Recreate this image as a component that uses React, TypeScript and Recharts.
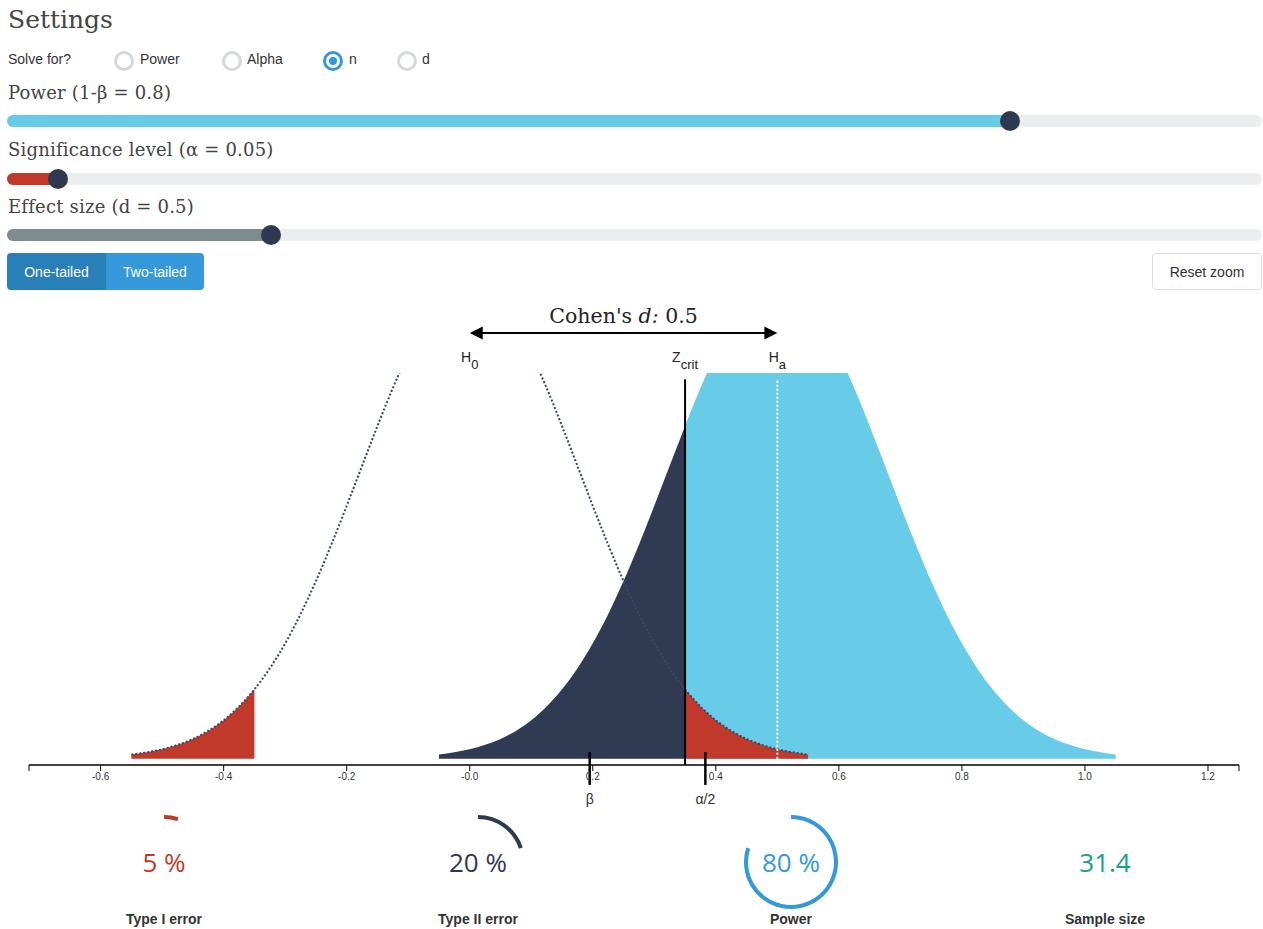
import React from 'react';
import { ComposedChart, Area, Line, XAxis, YAxis, ReferenceLine, PieChart, Pie } from 'recharts';

// x positions shared by both sampling distributions
const xGrid = [
  -0.55, -0.525, -0.5, -0.475, -0.45, -0.425, -0.4, -0.375, -0.35, -0.325, -0.3, -0.275, -0.25,
  -0.225, -0.2, -0.175, -0.15, -0.125, -0.1, -0.075, -0.05, -0.025, 0, 0.025, 0.05, 0.075, 0.1,
  0.125, 0.15, 0.175, 0.2, 0.225, 0.25, 0.275, 0.3, 0.325, 0.35, 0.375, 0.4, 0.425, 0.45, 0.475,
  0.5, 0.525, 0.55, 0.575, 0.6, 0.625, 0.65, 0.675, 0.7, 0.725, 0.75, 0.775, 0.8, 0.825, 0.85,
  0.875, 0.9, 0.925, 0.95, 0.975, 1.0, 1.025, 1.05,
];

const h0Density = [
  0.019, 0.03, 0.044, 0.065, 0.093, 0.131, 0.181, 0.246, 0.327, 0.426, 0.544, 0.682, 0.838, 1.01,
  1.193, 1.382, 1.57, 1.749, 1.91, 2.046, 2.149, 2.213, 2.235, 2.213, 2.149, 2.046, 1.91, 1.749,
  1.57, 1.382, 1.193, 1.01, 0.838, 0.682, 0.544, 0.426, 0.327, 0.246, 0.181, 0.131, 0.093, 0.065,
  0.044, 0.03, 0.019,
];

// Ha curve, from x = -0.05 to 1.05
const haDensity = [
  0.019, 0.03, 0.044, 0.065, 0.093, 0.131, 0.181, 0.246, 0.327, 0.426, 0.544, 0.682, 0.838, 1.01,
  1.193, 1.382, 1.57, 1.749, 1.91, 2.046, 2.149, 2.213, 2.235, 2.213, 2.149, 2.046, 1.91, 1.749,
  1.57, 1.382, 1.193, 1.01, 0.838, 0.682, 0.544, 0.426, 0.327, 0.246, 0.181, 0.131, 0.093, 0.065,
  0.044, 0.03, 0.019,
];

const H0_START = 0; // index in xGrid where each curve begins
const HA_START = 20;
const ZCRIT = 0.35;
const H0_MEAN = 0;
const HA_MEAN = 0.5;
const EFFECT = 0.5;

const xDomain = [-0.7164, 1.2504];
const axisTicks = [-0.6, -0.4, -0.2, 0, 0.2, 0.4, 0.6, 0.8, 1.0, 1.2];
const axisTickLabels = ['-0.6', '-0.4', '-0.2', '-0.0', '0.2', '0.4', '0.6', '0.8', '1.0', '1.2'];

const markerSymbols = ['β', 'α/2'];
const markerPositions = [0.195, 0.383];

const radioLabels = ['Power', 'Alpha', 'n', 'd'];
const radioSelected = 'n';
const sliderLabels = ['Power (1-β = 0.8)', 'Significance level (α = 0.05)', 'Effect size (d = 0.5)'];

const gaugeLabels = ['Type I error', 'Type II error', 'Power', 'Sample size'];
const gaugeTexts = ['5 %', '20 %', '80 %', '31.4'];
const gaugeShares = [0.05, 0.2, 0.8, null];
const gaugeColors = ['#c0392b', '#2f3a50', '#3498db', '#16a085'];

const NAVY = '#303a52';
const SKY = '#68cce9';
const RED = '#c0392b';

const table = xGrid.map((x, i) => {
  const hi = i - H0_START;
  const ai = i - HA_START;
  const h0 = hi >= 0 && hi < h0Density.length ? h0Density[hi] : null;
  const ha = ai >= 0 && ai < haDensity.length ? haDensity[ai] : null;
  return {
    x,
    h0,
    alphaLeft: h0 != null && x <= -ZCRIT ? h0 : null,
    alphaRight: h0 != null && x >= ZCRIT ? h0 : null,
    beta: ha != null && x <= ZCRIT ? ha : null,
    power: ha != null && x >= ZCRIT ? ha : null,
  };
});

const SANS = 'Liberation Sans, Arial, sans-serif';
const SLAB = 'DejaVu Serif, serif';

const renderTick = (props: any) => {
  const idx = axisTicks.indexOf(props.payload.value);
  if (idx < 0) return <g />;
  return (
    <text x={props.x} y={props.y} dy="0.71em" textAnchor="middle" fontSize={10} fontFamily={SANS} fill="#333">
      {axisTickLabels[idx]}
    </text>
  );
};

const SubLabel = ({ x, y, main, sub }: any) => (
  <text x={x} y={y} textAnchor="middle" fontSize={14} fontFamily={SANS} fill="#222">
    {main}
    <tspan dy={7} fontSize={13}>{sub}</tspan>
  </text>
);

const ArrowShape = (p: any) => {
  const { x1, x2, y1 } = p;
  const y = y1;
  const mid = (x1 + x2) / 2;
  return (
    <g>
      <text x={mid} y={y - 10} textAnchor="middle" fontFamily={SLAB} fontSize={20.5} fill="#222">
        Cohen's <tspan fontStyle="italic">d:</tspan> {EFFECT}
      </text>
      <line x1={x1 + 10} x2={x2 - 10} y1={y} y2={y} stroke="#000" strokeWidth={2} />
      <polygon points={`${x1},${y} ${x1 + 13},${y - 6.5} ${x1 + 13},${y + 6.5}`} fill="#000" />
      <polygon points={`${x2},${y} ${x2 - 13},${y - 6.5} ${x2 - 13},${y + 6.5}`} fill="#000" />
      <SubLabel x={x1} y={y + 29} main="H" sub="0" />
      <SubLabel x={x2} y={y + 29} main="H" sub="a" />
    </g>
  );
};

const ZcritShape = (p: any) => {
  const top = Math.min(p.y1, p.y2);
  return (
    <g>
      <line x1={p.x1} x2={p.x2} y1={p.y1} y2={p.y2} stroke="#000" strokeWidth={2} />
      <SubLabel x={p.x1} y={top - 17} main="Z" sub="crit" />
    </g>
  );
};

const markerShape = (sym: string) => (p: any) => {
  const bottom = Math.max(p.y1, p.y2);
  return (
    <g>
      <line x1={p.x1} x2={p.x2} y1={p.y1} y2={p.y2} stroke="#000" strokeWidth={2.5} />
      <text x={p.x1} y={bottom + 19} textAnchor="middle" fontSize={14} fontFamily={SANS} fill="#333">
        {sym}
      </text>
    </g>
  );
};

const abs = (s: React.CSSProperties): React.CSSProperties => ({ position: 'absolute', lineHeight: 1, ...s });

const radioX = [124, 232, 333, 407];
const radioTextX = [140, 247, 349, 422];
const sliderTops = [84, 141, 198];
const sliderCenters = [121, 178.5, 235];
const sliderHandles = [1010, 58, 271];
const sliderColors = ['#67cbe8', '#c0392b', '#7f8c8d'];
const gaugeCenters = [164, 478, 791, 1105];

export default function App() {
  return (
    <div style={{ position: 'relative', width: 1263, height: 929, overflow: 'hidden', background: '#fff', fontFamily: SANS, color: '#333' }}>
      <style>{'body{margin:0}'}</style>

      <div style={abs({ left: 8, top: 7, fontSize: 25, fontFamily: SLAB, color: '#444' })}>Settings</div>
      <div style={abs({ left: 8, top: 52, fontSize: 14 })}>Solve for?</div>
      {radioLabels.map((r, i) => (
        <React.Fragment key={r}>
          <div
            style={abs({
              left: radioX[i] - 10,
              top: 51,
              width: 20,
              height: 20,
              boxSizing: 'border-box',
              borderRadius: '50%',
              border: `3px solid ${r === radioSelected ? '#3498db' : '#d5d9dc'}`,
              background: '#fff',
            })}
          >
            {r === radioSelected && (
              <div style={{ position: 'absolute', left: 3, top: 3, width: 8, height: 8, borderRadius: '50%', background: '#3498db' }} />
            )}
          </div>
          <div style={abs({ left: radioTextX[i], top: 52, fontSize: 14 })}>{r}</div>
        </React.Fragment>
      ))}

      {sliderLabels.map((label, i) => (
        <React.Fragment key={label}>
          <div style={abs({ left: 8, top: sliderTops[i], fontSize: 18, letterSpacing: 0.2, fontFamily: SLAB, color: '#444' })}>{label}</div>
          <div style={abs({ left: 7, top: sliderCenters[i] - 6, width: 1255, height: 12, borderRadius: 6, background: '#ebedef' })} />
          <div style={abs({ left: 7, top: sliderCenters[i] - 6, width: sliderHandles[i] - 7, height: 12, borderRadius: 6, background: sliderColors[i] })} />
          <div style={abs({ left: sliderHandles[i] - 10, top: sliderCenters[i] - 10, width: 20, height: 20, borderRadius: '50%', background: '#2f3a50' })} />
        </React.Fragment>
      ))}

      <div style={abs({ left: 7, top: 253, width: 99, height: 37, background: '#2980b9', color: '#fff', fontSize: 14, borderRadius: '4px 0 0 4px', display: 'flex', alignItems: 'center', justifyContent: 'center' })}>
        One-tailed
      </div>
      <div style={abs({ left: 106, top: 253, width: 98, height: 37, background: '#3498db', color: '#fff', fontSize: 14, borderRadius: '0 4px 4px 0', display: 'flex', alignItems: 'center', justifyContent: 'center' })}>
        Two-tailed
      </div>
      <div style={abs({ left: 1152, top: 253, width: 110, height: 37, boxSizing: 'border-box', border: '1px solid #ddd', borderRadius: 4, fontSize: 14, display: 'flex', alignItems: 'center', justifyContent: 'center' })}>
        Reset zoom
      </div>

      <div style={{ position: 'absolute', left: 0, top: 290 }}>
        <ComposedChart width={1263} height={540} data={table} margin={{ top: 83, right: 24, bottom: 35, left: 29 }}>
          <XAxis
            dataKey="x"
            type="number"
            domain={xDomain}
            allowDataOverflow
            ticks={[xDomain[0], ...axisTicks, xDomain[1]]}
            interval={0}
            tickSize={6}
            height={30}
            tick={renderTick}
            axisLine={{ stroke: '#000', strokeWidth: 1.5 }}
            tickLine={{ stroke: '#000' }}
          />
          <YAxis hide type="number" domain={[-0.03, 1.82]} allowDataOverflow />
          <Area dataKey="beta" type="monotone" fill={NAVY} fillOpacity={1} stroke="none" isAnimationActive={false} />
          <Area dataKey="power" type="monotone" fill={SKY} fillOpacity={1} stroke="none" isAnimationActive={false} />
          <Area dataKey="alphaLeft" type="monotone" fill={RED} fillOpacity={1} stroke="none" isAnimationActive={false} />
          <Area dataKey="alphaRight" type="monotone" fill={RED} fillOpacity={1} stroke="none" isAnimationActive={false} />
          <Line dataKey="h0" type="monotone" stroke="#34495e" strokeWidth={2} strokeDasharray="2 2" dot={false} activeDot={false} isAnimationActive={false} />
          <ReferenceLine
            segment={[{ x: HA_MEAN, y: 0 }, { x: HA_MEAN, y: 1.79 }]}
            ifOverflow="visible"
            stroke="#fff"
            strokeWidth={2}
            strokeDasharray="2 2"
          />
          <ReferenceLine segment={[{ x: ZCRIT, y: -0.03 }, { x: ZCRIT, y: 1.79 }]} ifOverflow="visible" shape={ZcritShape} />
          <ReferenceLine segment={[{ x: H0_MEAN, y: 2.009 }, { x: HA_MEAN, y: 2.009 }]} ifOverflow="visible" shape={ArrowShape} />
          {markerSymbols.map((sym, i) => (
            <ReferenceLine
              key={sym}
              segment={[{ x: markerPositions[i], y: 0.031 }, { x: markerPositions[i], y: -0.124 }]}
              ifOverflow="visible"
              shape={markerShape(sym)}
            />
          ))}
        </ComposedChart>
      </div>

      {gaugeLabels.map((label, i) => (
        <React.Fragment key={label}>
          {gaugeShares[i] != null && (
            <div style={{ position: 'absolute', left: gaugeCenters[i] - 50, top: 812 }}>
              <PieChart width={100} height={100} margin={{ top: 0, right: 0, bottom: 0, left: 0 }}>
                <Pie
                  data={[{ v: gaugeShares[i] }]}
                  dataKey="v"
                  cx="50%"
                  cy="50%"
                  innerRadius={43}
                  outerRadius={47}
                  startAngle={90}
                  endAngle={90 - 360 * (gaugeShares[i] as number)}
                  fill={gaugeColors[i]}
                  stroke="none"
                  isAnimationActive={false}
                />
              </PieChart>
            </div>
          )}
          <div style={abs({ left: gaugeCenters[i] - 80, top: 846, width: 160, height: 32, display: 'flex', alignItems: 'center', justifyContent: 'center', fontSize: 26, fontFamily: 'Open Sans, sans-serif', color: gaugeColors[i] })}>
            {gaugeTexts[i]}
          </div>
          <div style={abs({ left: gaugeCenters[i] - 100, top: 912, width: 200, textAlign: 'center', fontSize: 14, fontWeight: 'bold', color: '#333' })}>
            {label}
          </div>
        </React.Fragment>
      ))}
    </div>
  );
}
